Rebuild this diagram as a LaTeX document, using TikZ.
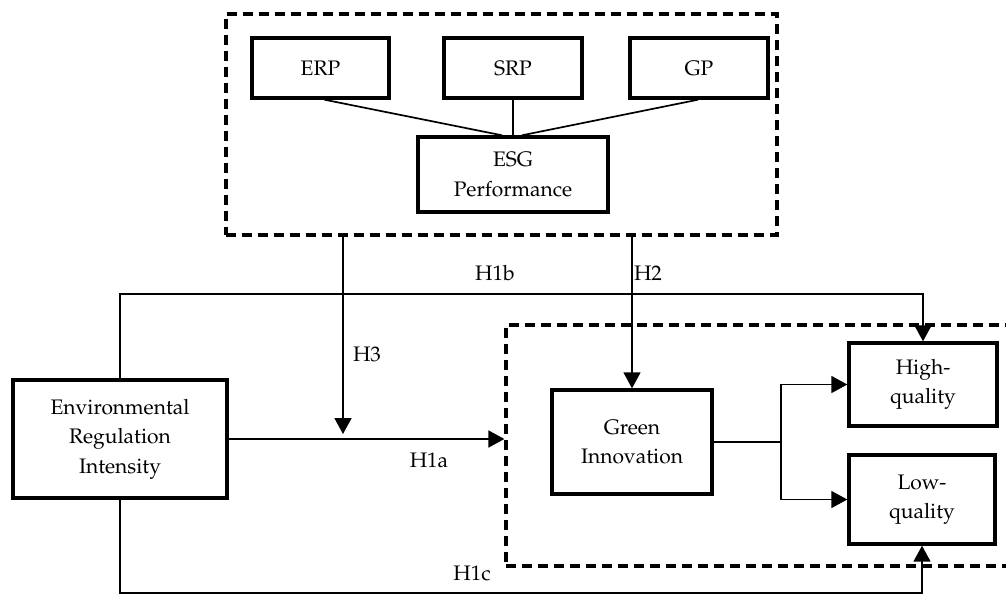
\documentclass[tikz,border=0pt]{standalone}
\usepackage[T1]{fontenc}
\renewcommand{\rmdefault}{ppl}
\usetikzlibrary{arrows.meta,calc}
\begin{document}
\begin{tikzpicture}[x=1pt,y=-1pt,
  font=\fontsize{21}{29.5}\selectfont,
  box/.style={draw, line width=3.4pt, inner sep=0pt, align=center},
  dashbox/.style={draw, line width=3.2pt, dash pattern=on 10pt off 6pt, inner sep=0pt},
  conn/.style={line width=1.7pt},
  arr/.style={line width=1.7pt, -{Triangle[length=16pt,width=17pt]}},
  lbl/.style={inner sep=0pt}]
\useasboundingbox (0,0) rectangle (1006,595);

% top group
\node[dashbox, minimum width=551pt, minimum height=221pt] (topbox) at (501.5,124.5) {};
\node[box, minimum width=137pt, minimum height=60pt] (ERP) at (320.5,68) {ERP};
\node[box, minimum width=138pt, minimum height=60pt] (SRP) at (513,68) {SRP};
\node[box, minimum width=138pt, minimum height=60pt] (GP) at (699,68) {GP};
\node[box, minimum width=190pt, minimum height=75pt] (ESG) at (513,174.5) {ESG\\Performance};

\draw[conn] ([xshift=4pt]ERP.south) -- ([xshift=-11pt]ESG.north);
\draw[conn] (SRP.south) -- (ESG.north);
\draw[conn] ([xshift=-1pt]GP.south) -- ([xshift=9pt]ESG.north);

% left node
\node[box, minimum width=214pt, minimum height=118pt] (ERI) at (120,439) {Environmental\\Regulation\\Intensity};

% bottom group
\node[dashbox, minimum width=510pt, minimum height=241pt] (botbox) at (761,445.5) {};
\node[box, minimum width=160pt, minimum height=104pt] (GI) at (632,442) {Green\\Innovation};
\node[box, minimum width=148pt, minimum height=83pt] (HQ) at (923,384.5) {High-\\quality};
\node[box, minimum width=146pt, minimum height=89pt] (LQ) at (922,499.5) {Low-\\quality};

% helper coordinates
\coordinate (h3end) at (343,434);
\coordinate (h1b) at (0,294);
\coordinate (h1c) at (0,593);
\coordinate (br) at (781,442);

% connectors
\draw[arr] (topbox.south -| h3end) -- (h3end);
\draw[arr] (topbox.south -| GI.north) -- (GI.north);
\draw[arr] (ERI.east) -- (ERI.east -| botbox.west);
\draw[arr] (ERI.north) -- (ERI.north |- h1b) -| (HQ.north);
\draw[arr] (ERI.south) -- (ERI.south |- h1c) -| (LQ.south);
\draw[conn] (GI.east) -- (br);
\draw[arr] (br) |- (HQ.west);
\draw[arr] (br) |- (LQ.west);

% labels
\node[lbl] (lH1b) at (495,273) {H1b};
\node[lbl] (lH2) at (648,273) {H2};
\node[lbl] (lH3) at (367,354) {H3};
\node[lbl] (lH1a) at (429,460) {H1a};
\node[lbl] (lH1c) at (472,573) {H1c};
\end{tikzpicture}
\end{document}
